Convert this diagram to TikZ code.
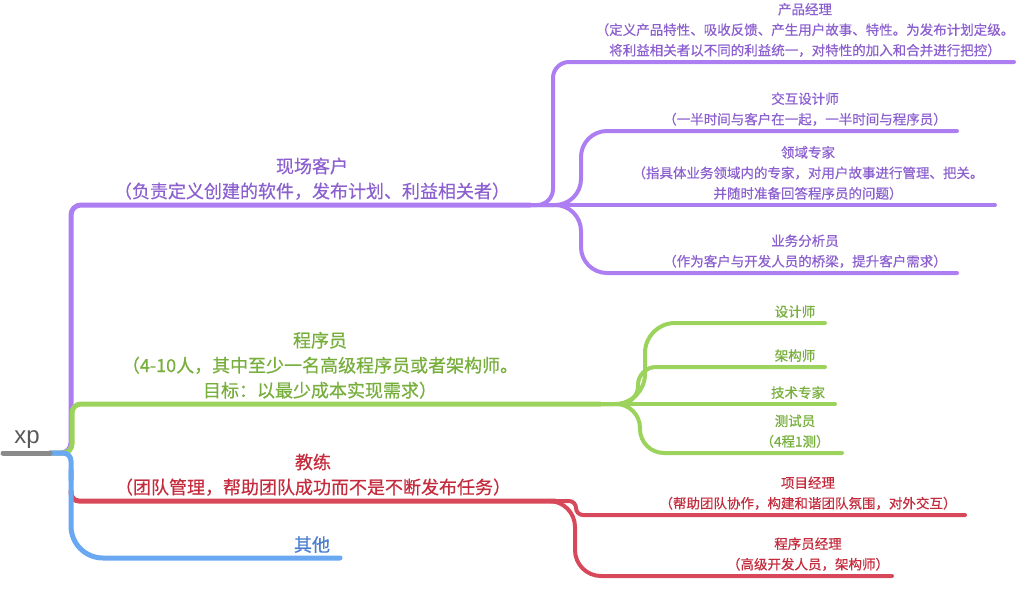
\documentclass[tikz,border=0pt]{standalone}
\usepackage{fontspec}
\newfontfamily\cjk[FakeBold=0.6]{Noto Sans CJK SC}
\newfontfamily\lat{Liberation Sans}
\definecolor{pl}{HTML}{AC7EF2}
\definecolor{pt}{HTML}{8C60CE}
\definecolor{gl}{HTML}{9CD35C}
\definecolor{gt}{HTML}{77AE3C}
\definecolor{rl}{HTML}{D8485B}
\definecolor{rt}{HTML}{C42C3D}
\definecolor{bl}{HTML}{6AA8F2}
\definecolor{bt}{HTML}{4A7DCF}
\definecolor{gr}{HTML}{8A8A8A}
\tikzset{
  mainlbl/.style={font=\cjk\fontsize{18}{25}\selectfont, align=center, anchor=south, inner sep=2pt},
  sublbl/.style={font=\cjk\fontsize{13.5}{20.5}\selectfont, align=center, anchor=south, inner sep=2pt},
  mainln/.style={line width=5pt, line cap=round},
  subln/.style={line width=4pt, line cap=round},
}
\begin{document}
\begin{tikzpicture}[x=1pt,y=-1pt]
\useasboundingbox (0,0) rectangle (1018,600);
% root
\coordinate (rootL) at (3,453);
\coordinate (root) at (50,453);
\node[font=\lat\fontsize{24}{24}\selectfont, text=black!65, anchor=south, inner sep=1pt] (xp) at (27,450) {xp};
% junctions and ends
\coordinate (bmid) at (71,491);
\coordinate (pj) at (530,205);
\coordinate (gj) at (600,404);
\coordinate (rj) at (555,501);
\coordinate (oE) at (340,558);
\coordinate (pmE) at (1014,62);
\coordinate (ixE) at (957,131);
\coordinate (domE) at (995,205);
\coordinate (baE) at (957,273);
\coordinate (desE) at (825,323);
\coordinate (archE) at (825,367);
\coordinate (techE) at (835,404);
\coordinate (testE) at (842,453);
\coordinate (pjmE) at (965,515);
\coordinate (prmE) at (892,576);

% main branches
\draw[mainln, pl, rounded corners=10] (root) -| (71,205) -- (pj);
\draw[mainln, gl, rounded corners=9] (root) -| (72,404) -- (gj);
\draw[mainln, rl, rounded corners=8] (bmid) |- (rj);
\draw[mainln, bl, rounded corners=8] (root) -| (71,480);
\draw[mainln, bl, rounded corners=32] (71,470) |- (oE);
\draw[mainln, gr] (rootL) -- (root);

% purple sub-branches
\draw[subln, pl, rounded corners=16] (pj) -| (553,62) -- (pmE);
\draw[subln, pl, rounded corners=26] (pj) -| (581,131) -- (ixE);
\draw[subln, pl] (pj) -- (domE);
\draw[subln, pl, rounded corners=26] (pj) -| (581,273) -- (baE);
% green sub-branches
\draw[subln, gl, rounded corners=30] (gj) -| (645,323) -- (desE);
\draw[subln, gl, rounded corners=18] (gj) -| (638,367) -- (archE);
\draw[subln, gl] (gj) -- (techE);
\draw[subln, gl, rounded corners=24] (gj) -| (640,453) -- (testE);
% red sub-branches
\draw[subln, rl, rounded corners=7] (rj) -| (576,515) -- (pjmE);
\draw[subln, rl, rounded corners=26] (rj) -| (575,576) -- (prmE);

% main labels
\node[mainlbl, text=pt] (cust) at (312,202) {现场客户\\（负责定义创建的软件，发布计划、利益相关者）};
\node[mainlbl, text=gt] (prog) at (320,401) {程序员\\（4-10人，其中至少一名高级程序员或者架构师。\\目标：以最少成本实现需求）};
\node[mainlbl, text=rt] (coach) at (313,498) {教练\\（团队管理，帮助团队成功而不是不断发布任务）};
\node[mainlbl, text=bt] (other) at (312,555) {其他};

% sub labels
\node[sublbl, text=pt] (pm) at (805,59) {产品经理\\（定义产品特性、吸收反馈、产生用户故事、特性。为发布计划定级。\\将利益相关者以不同的利益统一，对特性的加入和合并进行把控）};
\node[sublbl, text=pt] (ix) at (805,128) {交互设计师\\（一半时间与客户在一起，一半时间与程序员）};
\node[sublbl, text=pt] (dom) at (808,202) {领域专家\\（指具体业务领域内的专家，对用户故事进行管理、把关。\\并随时准备回答程序员的问题）};
\node[sublbl, text=pt] (ba) at (805,270) {业务分析员\\（作为客户与开发人员的桥梁，提升客户需求）};
\node[sublbl, text=gt] (des) at (795,320) {设计师};
\node[sublbl, text=gt] (arch) at (795,364) {架构师};
\node[sublbl, text=gt] (tech) at (798,401) {技术专家};
\node[sublbl, text=gt] (test) at (795,450) {测试员\\（4程1测）};
\node[sublbl, text=rt] (pjm) at (808,512) {项目经理\\（帮助团队协作，构建和谐团队氛围，对外交互）};
\node[sublbl, text=rt] (prm) at (808,573) {程序员经理\\（高级开发人员，架构师）};
\end{tikzpicture}
\end{document}
